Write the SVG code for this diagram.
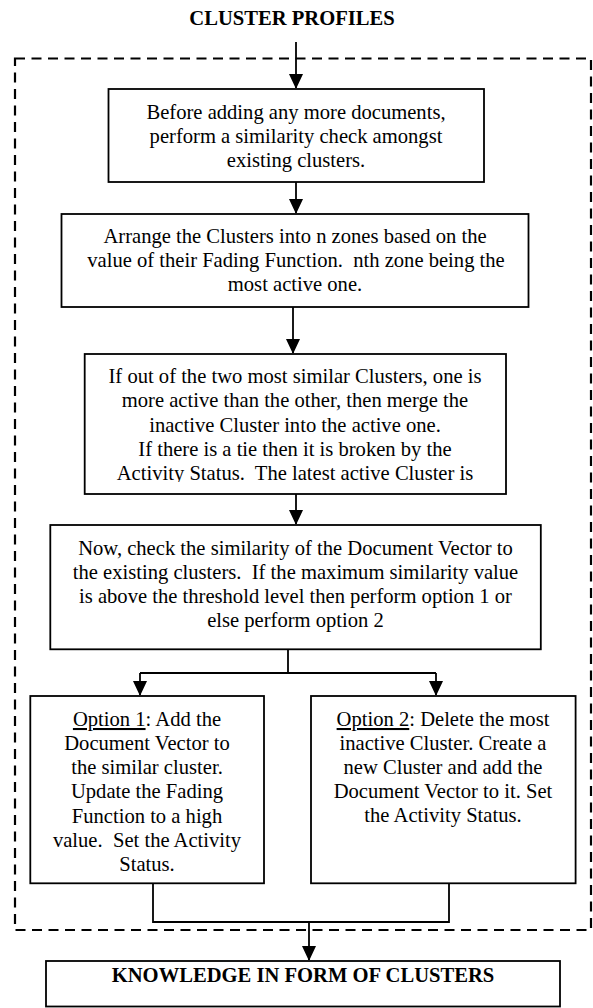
<svg xmlns="http://www.w3.org/2000/svg" width="593" height="1008" viewBox="0 0 593 1008">
<style>
.box{fill:#fff;stroke:#000;stroke-width:1.8}
.t{font-family:"Liberation Serif","Times New Roman",serif;font-size:20.6px;fill:#000;text-anchor:middle;white-space:pre}
.b{font-weight:bold}
.con{fill:none;stroke:#000;stroke-width:1.8}
.dash{fill:none;stroke:#000;stroke-width:2.2;stroke-dasharray:10 6.5}
</style>
<defs>
<marker id="ah" viewBox="0 0 14 15" refX="14" refY="7" markerWidth="14" markerHeight="15" markerUnits="userSpaceOnUse" orient="auto">
<path d="M0,0 L15,7 L0,14 Z" fill="#000"/>
</marker>
<clipPath id="c3"><rect x="85" y="354" width="421" height="128"/></clipPath>
</defs>
<rect x="0" y="0" width="593" height="1008" fill="#fff"/>
<g id="title"><text class="t b" x="292" y="25">CLUSTER PROFILES</text></g>
<g id="container"><rect class="dash" x="15" y="58.5" width="576" height="871.5"/></g>
<g id="connectors">
<path class="con" d="M296,42 V88" marker-end="url(#ah)"/>
<path class="con" d="M296,182 V213" marker-end="url(#ah)"/>
<path class="con" d="M293,307 V353" marker-end="url(#ah)"/>
<path class="con" d="M296,494 V524" marker-end="url(#ah)"/>
<path class="con" d="M288,649 V673 M140,673 H436"/>
<path class="con" d="M140,673 V695" marker-end="url(#ah)"/>
<path class="con" d="M436,673 V695" marker-end="url(#ah)"/>
<path class="con" d="M153,883 V922 H449 V883"/>
<path class="con" d="M309,922 V960" marker-end="url(#ah)"/>
</g>
<g id="n1">
<rect class="box" x="108.5" y="89" width="375.5" height="93"/>
<text class="t" x="296" y="119">Before adding any more documents,</text>
<text class="t" x="296" y="143">perform a similarity check amongst</text>
<text class="t" x="296" y="167">existing clusters.</text>
</g>
<g id="n2">
<rect class="box" x="61.5" y="214" width="467" height="93"/>
<text class="t" x="295" y="243">Arrange the Clusters into n zones based on the</text>
<text class="t" x="296" y="267">value of their Fading Function.  nth zone being the</text>
<text class="t" x="295" y="291">most active one.</text>
</g>
<g id="n3">
<rect class="box" x="84.7" y="354" width="421.3" height="140"/>
<g clip-path="url(#c3)">
<text class="t" x="295" y="383">If out of the two most similar Clusters, one is</text>
<text class="t" x="295" y="407">more active than the other, then merge the</text>
<text class="t" x="295" y="431.5">inactive Cluster into the active one.</text>
<text class="t" x="295" y="456">If there is a tie then it is broken by the</text>
<text class="t" x="295" y="480">Activity Status.  The latest active Cluster is</text>
</g>
</g>
<g id="n4">
<rect class="box" x="50.3" y="525" width="490.5" height="124.3"/>
<text class="t" x="295.5" y="555">Now, check the similarity of the Document Vector to</text>
<text class="t" x="295.5" y="579">the existing clusters.  If the maximum similarity value</text>
<text class="t" x="295.5" y="603">is above the threshold level then perform option 1 or</text>
<text class="t" x="295.5" y="627">else perform option 2</text>
</g>
<g id="n5">
<rect class="box" x="30.3" y="696" width="233.7" height="187.3"/>
<text class="t" x="147" y="726"><tspan text-decoration="underline">Option 1</tspan>: Add the</text>
<text class="t" x="147" y="750">Document Vector to</text>
<text class="t" x="147" y="774">the similar cluster.</text>
<text class="t" x="147" y="798">Update the Fading</text>
<text class="t" x="147" y="822.5">Function to a high</text>
<text class="t" x="147" y="847">value.  Set the Activity</text>
<text class="t" x="147" y="871">Status.</text>
</g>
<g id="n6">
<rect class="box" x="311" y="696" width="264.6" height="187.3"/>
<text class="t" x="443" y="726"><tspan text-decoration="underline">Option 2</tspan>: Delete the most</text>
<text class="t" x="443" y="750">inactive Cluster. Create a</text>
<text class="t" x="443" y="774">new Cluster and add the</text>
<text class="t" x="443" y="798">Document Vector to it. Set</text>
<text class="t" x="443" y="822">the Activity Status.</text>
</g>
<g id="n7">
<rect class="box" x="46" y="961" width="514" height="45.5"/>
<text class="t b" x="303" y="982">KNOWLEDGE IN FORM OF CLUSTERS</text>
</g>
</svg>
